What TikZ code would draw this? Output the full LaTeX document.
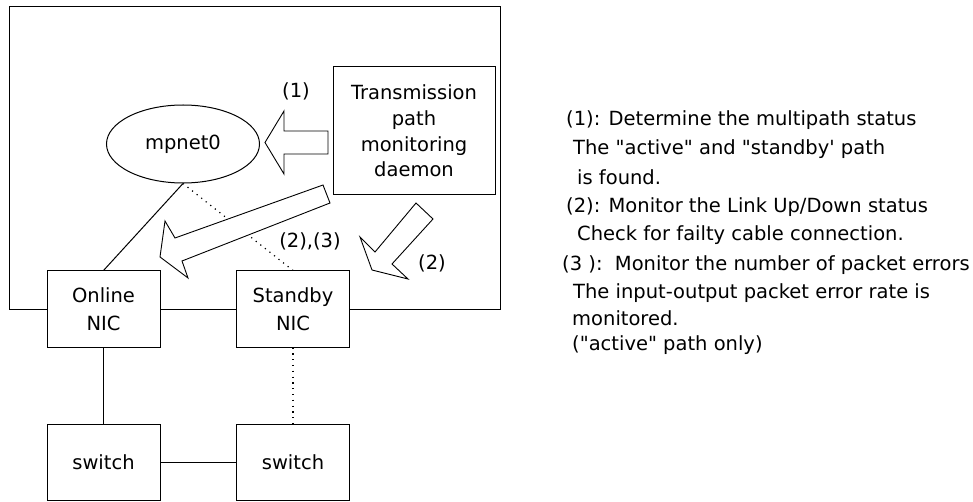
\documentclass[tikz,border=0pt]{standalone}
\usepackage{fontspec}
\setmainfont{DejaVu Sans}[Ligatures=TeXOff]
\usetikzlibrary{positioning}
\usetikzlibrary{shapes.geometric}

\begin{document}
\begin{tikzpicture} [
    x=1pt, y=-1pt,                  % pixel grid, y going down
    node distance=76pt and 76pt,    % gap between NIC and switch boxes
    ]
% -------------------------------------------------
\tikzset{
  base/.style={draw, line width=1pt, fill=white, inner sep=0pt, align=center, font=\fontsize{19.5}{28}\selectfont},
  rect/.style={base, rectangle, minimum width=113pt, minimum height=76pt},
  oval/.style={base, ellipse, minimum width=153pt, minimum height=78pt},
  line/.style={draw, line width=1pt},
  dots/.style={draw, line width=1.2pt, dash pattern=on 1.2pt off 4.6pt},
  blk/.style={draw, line width=0.9pt, fill=white, line join=miter},
  lbl/.style={inner sep=0pt, font=\fontsize{19.5}{24}\selectfont},
  note/.style={lbl, anchor=west}
}

    \useasboundingbox (0,0) rectangle (973,502);
    \draw[line width=1pt] (9,7) rectangle (500,309);                % host frame

    \node [rect] (onl) at (103.5,309) {Online\\NIC};
    \node [rect] (sby) at (293,309) {Standby\\NIC};
    \node [rect, below=of onl] (sw1) {switch};
    \node [rect, below=of sby] (sw2) {switch};
    \node [oval] (mpn) at (183,144) {mpnet0};
    \node [rect, minimum width=162pt, minimum height=128pt, font=\fontsize{19.5}{25.7}\selectfont] (dmn) at (414,131) {Transmission\\path\\monitoring\\daemon};

    \path [line] (mpn.south) -- (onl.north);
    \path [dots] (mpn.south) -- (sby.north);
    \path [line] (onl) -- (sw1);
    \path [dots] (sby) -- (sw2);
    \path [line] (sw1) -- (sw2);

    \draw [blk] (328,131) -- (284,131) -- (284,111) -- (265,142.5) -- (284,174) -- (284,154) -- (328,154) -- cycle;   % arrow (1)
    \draw [blk] (323,185) -- (175,238) -- (165,221) -- (160,257) -- (188,278) -- (182,261) -- (330,203) -- cycle;     % arrow (2),(3)
    \draw [blk] (416,203) -- (375,252) -- (360,237) -- (372,270) -- (408,279) -- (392,264) -- (433,219) -- cycle;     % arrow (2)

    \node [lbl] (l1) at (296,91) {(1)};
    \node [lbl] (l23) at (310,241) {(2),(3)};
    \node [lbl] (l2) at (432,263) {(2)};

    \node [note] (n1) at (566,120) {(1): Determine the multipath status};
    \node [note] (n1a) at (573,149) {The "active" and "standby' path};
    \node [note] (n1b) at (577,177) {is found.};
    \node [note] (n2) at (566,207) {(2): Monitor the Link Up/Down status};
    \node [note] (n2a) at (577,235) {Check for failty cable connection.};
    \node [note] (n3) at (562,265) {(3 ):\ \ Monitor the number of packet errors};
    \node [note] (n3a) at (573,293) {The input-output packet error rate is};
    \node [note] (n3b) at (572,318) {monitored.};
    \node [note] (n3c) at (572,345) {("active" path only)};
 
\end{tikzpicture}
\end{document}
